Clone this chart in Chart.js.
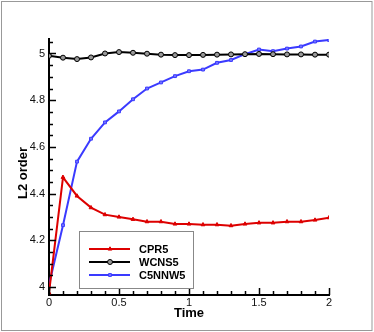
<!DOCTYPE html>
<html>
<head>
<meta charset="utf-8">
<script src="https://cdn.jsdelivr.net/npm/chart.js@4.4.1/dist/chart.umd.min.js"></script>
<style>
  html, body { margin: 0; padding: 0; background: #fff; }
  #wrap { width: 374px; height: 332px; }
</style>
</head>
<body>
<div id="wrap"><canvas id="chart" width="374" height="332"></canvas></div>
<script>
// data
const times = [0, 0.1, 0.2, 0.3, 0.4, 0.5, 0.6, 0.7, 0.8, 0.9, 1.0, 1.1, 1.2, 1.3, 1.4, 1.5, 1.6, 1.7, 1.8, 1.9, 2.0];
const cpr5 = [3.975, 4.47, 4.39, 4.34, 4.31, 4.30, 4.29, 4.28, 4.28, 4.27, 4.27, 4.267, 4.267, 4.263, 4.27, 4.275, 4.275, 4.28, 4.28, 4.287, 4.297];
const wcns5 = [4.99, 4.982, 4.976, 4.983, 5.0, 5.006, 5.003, 4.999, 4.995, 4.993, 4.993, 4.994, 4.995, 4.996, 4.997, 4.998, 4.997, 4.996, 4.996, 4.995, 4.995];
const c5nnw5 = [4.01, 4.265, 4.537, 4.635, 4.705, 4.752, 4.804, 4.85, 4.876, 4.903, 4.924, 4.931, 4.96, 4.972, 4.997, 5.017, 5.01, 5.021, 5.03, 5.051, 5.058];
const seriesNames = ['CPR5', 'WCNS5', 'C5NNW5'];
const xTicks = [0, 0.5, 1, 1.5, 2];
const yTicks = [4, 4.2, 4.4, 4.6, 4.8, 5];
const xMinorStep = 0.1;
const yMinorStep = 0.05;

function pts(arr) {
    return arr.map((v, i) => ({ x: times[i], y: v }));
}

const font = "'Liberation Sans', Arial, sans-serif";

// inward ticks, axis titles, legend box and outer frame
const decor = {
    id: 'decor',
    afterDraw(chart) {
        const ctx = chart.ctx;
        const xs = chart.scales.x, ys = chart.scales.y;
        const a = chart.chartArea;
        ctx.save();
        ctx.strokeStyle = '#000';
        ctx.lineWidth = 1.5;
        // x ticks
        for (let v = 0; v <= 2.0001; v += xMinorStep) {
            const px = Math.round(xs.getPixelForValue(v)) + 0.5;
            const major = xTicks.some(t => Math.abs(t - v) < 1e-6);
            ctx.beginPath();
            ctx.moveTo(px, a.bottom);
            ctx.lineTo(px, a.bottom - (major ? 7 : 4));
            ctx.stroke();
        }
        // y ticks
        for (let v = 4; v <= 5.0601; v += yMinorStep) {
            const py = Math.round(ys.getPixelForValue(v)) + 0.5;
            const major = yTicks.some(t => Math.abs(t - v) < 1e-6);
            ctx.beginPath();
            ctx.moveTo(a.left, py);
            ctx.lineTo(a.left + (major ? 7 : 4), py);
            ctx.stroke();
        }

        // axis titles
        ctx.fillStyle = '#000';
        ctx.font = 'bold 13px ' + font;
        ctx.textAlign = 'center';
        ctx.textBaseline = 'middle';
        ctx.fillText('Time', 189, 313);
        ctx.save();
        ctx.translate(23, 173);
        ctx.rotate(-Math.PI / 2);
        ctx.fillText('L2 order', 0, 0);
        ctx.restore();

        // legend
        ctx.fillStyle = '#fff';
        ctx.fillRect(79, 231, 114, 57);
        ctx.strokeStyle = '#888';
        ctx.lineWidth = 1;
        ctx.strokeRect(79.5, 231.5, 114, 57);
        const rows = [249, 262, 275];
        chart.data.datasets.forEach((ds, i) => {
            const y = rows[i];
            ctx.strokeStyle = ds.borderColor;
            ctx.lineWidth = 2;
            ctx.beginPath();
            ctx.moveTo(89, y);
            ctx.lineTo(130, y);
            ctx.stroke();
            ctx.fillStyle = ds.pointBackgroundColor;
            ctx.strokeStyle = ds.pointBorderColor;
            ctx.lineWidth = ds.pointBorderWidth;
            Chart.helpers.drawPoint(ctx, {
                pointStyle: ds.pointStyle,
                radius: ds.pointRadius,
                borderWidth: ds.pointBorderWidth
            }, 110, y);
            ctx.fillStyle = '#000';
            ctx.font = 'bold 11px ' + font;
            ctx.textAlign = 'left';
            ctx.textBaseline = 'middle';
            ctx.fillText(ds.label, 139, y + 0.5);
        });

        // outer frame
        ctx.strokeStyle = '#999';
        ctx.lineWidth = 1;
        ctx.strokeRect(1.5, 1.5, 370.5, 329);
        ctx.restore();
    }
};

new Chart(document.getElementById('chart'), {
    type: 'line',
    data: {
        datasets: [
            {
                label: seriesNames[0],
                data: pts(cpr5),
                borderColor: '#dd0000',
                backgroundColor: '#dd0000',
                borderWidth: 2,
                pointStyle: 'triangle',
                pointRadius: 2.2,
                pointBorderWidth: 1,
                pointBackgroundColor: '#dd0000',
                pointBorderColor: '#dd0000',
                tension: 0
            },
            {
                label: seriesNames[1],
                data: pts(wcns5),
                borderColor: '#000000',
                backgroundColor: '#000000',
                borderWidth: 2,
                pointStyle: 'circle',
                pointRadius: 2.5,
                pointBorderWidth: 1,
                pointBackgroundColor: '#999999',
                pointBorderColor: '#000000',
                tension: 0
            },
            {
                label: seriesNames[2],
                data: pts(c5nnw5),
                borderColor: '#3a3aff',
                backgroundColor: '#3a3aff',
                borderWidth: 2,
                pointStyle: 'rect',
                pointRadius: 2,
                pointBorderWidth: 1,
                pointBackgroundColor: '#7a7aff',
                pointBorderColor: '#3a3aff',
                tension: 0
            }
        ]
    },
    options: {
        responsive: false,
        animation: false,
        events: [],
        layout: { padding: { left: 0, right: 45, top: 39, bottom: 0 } },
        plugins: { legend: { display: false }, tooltip: { enabled: false } },
        scales: {
            x: {
                type: 'linear',
                min: 0,
                max: 2,
                afterFit(s) { s.height = 37; },
                afterBuildTicks(s) { s.ticks = xTicks.map(v => ({ value: v })); },
                grid: { display: false, drawTicks: false },
                border: { display: true, color: '#000', width: 2 },
                ticks: {
                    padding: 1,
                    color: '#111',
                    font: { family: font, size: 11 },
                    maxRotation: 0,
                    callback: v => String(v)
                }
            },
            y: {
                type: 'linear',
                min: 3.966,
                max: 5.062,
                afterFit(s) { s.width = 49; },
                afterBuildTicks(s) { s.ticks = yTicks.map(v => ({ value: v })); },
                grid: { display: false, drawTicks: false },
                border: { display: true, color: '#000', width: 2 },
                ticks: {
                    padding: 4,
                    color: '#111',
                    font: { family: font, size: 11 },
                    callback: v => String(Math.round(v * 10) / 10)
                }
            }
        }
    },
    plugins: [decor]
});
</script>
</body>
</html>
